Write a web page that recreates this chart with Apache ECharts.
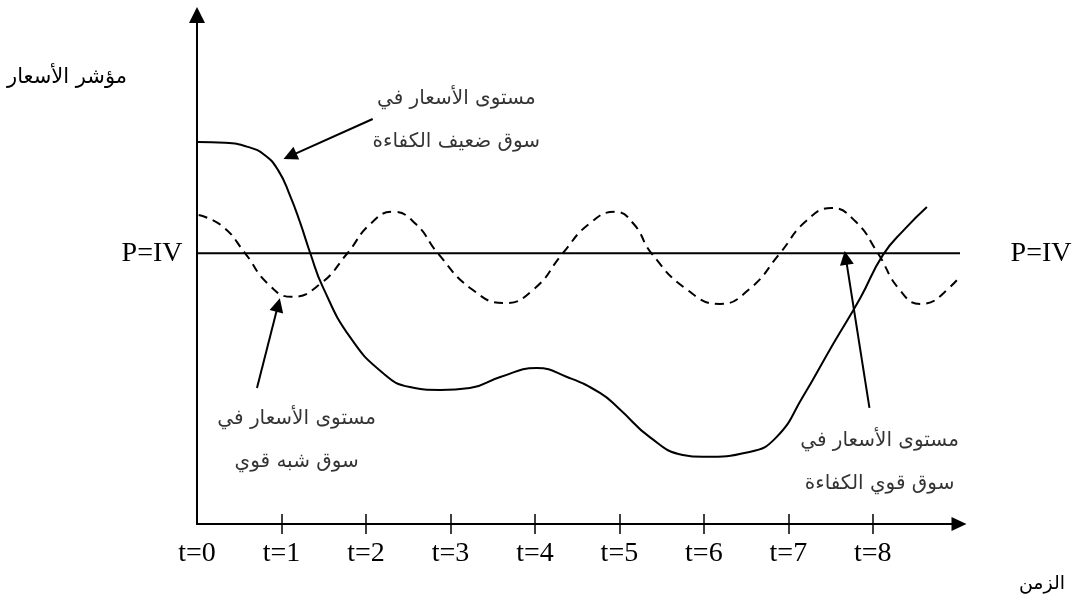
<!DOCTYPE html>
<html><head><meta charset="utf-8">
<script src="https://cdn.jsdelivr.net/npm/echarts@6/dist/echarts.min.js"></script>
<style>html,body{margin:0;padding:0;background:#fff}#c{width:1079px;height:595px}</style>
</head><body><div id="c"></div>
<script>
// ---- data (time t, price index; intrinsic value level = 100) ----
const timeTicks = [0, 1, 2, 3, 4, 5, 6, 7, 8];
const tickMarks = [1, 2, 3, 4, 5, 6, 7, 8];
const ivLevel = 100;
const ivSpan = [0, 9.53];
const ivLabel = 'P=IV';

// weak-efficiency market (solid)
const weakT = [0.01, 0.33, 0.60, 0.80, 0.96, 1.10, 1.22, 1.34, 1.49, 1.81, 2.20, 2.52, 2.88, 3.23, 3.59, 4.02, 4.38, 4.77, 5.00, 5.36, 5.75, 5.99, 6.54, 6.86, 7.17, 7.53, 7.85, 8.12, 8.38, 8.64];
const weakV = [141.1, 140.8, 139.3, 136.3, 130.7, 121.4, 111.4, 100.1, 87.5, 69.1, 55.8, 50.6, 49.5, 50.2, 54.3, 57.6, 54.3, 48.4, 42.5, 32.1, 25.5, 24.8, 26.6, 32.1, 46.9, 66.5, 83.4, 99.4, 109.0, 117.1];

// semi-strong market (dashed)
const semiT = [0.02, 0.30, 0.57, 0.84, 1.12, 1.46, 1.78, 2.05, 2.32, 2.59, 2.85, 3.25, 3.64, 3.99, 4.33, 4.64, 4.95, 5.17, 5.38, 5.79, 6.19, 6.54, 6.90, 7.21, 7.51, 7.79, 8.06, 8.31, 8.56, 8.89, 9.21, 9.27];
const semiV = [114.1, 110.0, 100, 88.7, 83.9, 88.7, 100, 110.8, 115.3, 110.8, 100, 86.8, 81.6, 86.8, 100, 110.8, 115.3, 110.8, 100, 86.8, 81.3, 86.8, 100, 111.9, 116.7, 111.9, 100, 86.8, 81.3, 86.8, 100, 104.1];

// annotations: text and arrow (tail -> head) in axis units
const noteTexts = ['مستوى الأسعار في\nسوق ضعيف الكفاءة', 'مستوى الأسعار في\nسوق شبه قوي', 'مستوى الأسعار في\nسوق قوي الكفاءة'];
const noteAnchors = [[3.07, 149.2], [1.18, 31.0], [8.08, 22.9]];
const arrowTails = [[2.08, 149.6], [0.71, 50.2], [7.96, 42.9]];
const arrowHeads = [[1.10, 135.9], [0.96, 80.9], [7.68, 98.3]];

const yTitle = 'مؤشر الأسعار';
const xTitle = 'الزمن';

// ---- chart ----
const zip = (a, b) => a.map((x, i) => [x, b[i]]);
const arabicFont = 'DejaVu Sans';
const serifFont = 'Liberation Serif';

const chart = echarts.init(document.getElementById('c'), null, {renderer: 'canvas'});
chart.setOption({
  animation: false,
  backgroundColor: '#fff',
  grid: {left: 197, right: 120, top: 15, bottom: 71, containLabel: false, outerBoundsMode: 'none'},
  xAxis: [{
    type: 'value', min: 0, max: 9.02, position: 'bottom',
    axisLine: {show: true, onZero: false, symbol: ['none', 'triangle'], symbolSize: [14, 15], lineStyle: {color: '#000', width: 2}},
    axisTick: {show: true, customValues: tickMarks, length: 10, lineStyle: {color: '#000', width: 1.5}},
    axisLabel: {show: true, customValues: timeTicks, formatter: v => 't=' + v, margin: 16,
      fontFamily: serifFont, fontSize: 28, color: '#000'},
    splitLine: {show: false}
  }, {
    type: 'value', min: 0, max: 9.02, position: 'bottom',
    axisLine: {show: false},
    axisTick: {show: true, inside: true, customValues: tickMarks, length: 10, lineStyle: {color: '#000', width: 1.5}},
    axisLabel: {show: false},
    splitLine: {show: false}
  }],
  yAxis: {
    type: 'value', min: 0, max: 188,
    axisLine: {show: true, onZero: false, symbol: ['none', 'triangle'], symbolSize: [16, 16], lineStyle: {color: '#000', width: 2}},
    axisTick: {show: false}, axisLabel: {show: false}, splitLine: {show: false}
  },
  graphic: [
    {type: 'text', x: 67, y: 78, style: {text: yTitle, fontFamily: arabicFont, fontSize: 21, fill: '#000', align: 'center', verticalAlign: 'middle'}},
    {type: 'text', x: 1042, y: 584, style: {text: xTitle, fontFamily: arabicFont, fontSize: 19, fill: '#000', align: 'center', verticalAlign: 'middle'}}
  ],
  series: [{
    name: 'weak', type: 'line', smooth: 0.5, symbol: 'none', clip: false,
    data: zip(weakT, weakV),
    lineStyle: {color: '#000', width: 2}
  }, {
    name: 'semi', type: 'line', smooth: 0.5, symbol: 'none', clip: false,
    data: zip(semiT, semiV),
    lineStyle: {color: '#000', width: 2, type: [9, 6]}
  }, {
    name: 'iv', type: 'line', symbol: 'circle', symbolSize: 1, showSymbol: true, clip: false,
    itemStyle: {color: 'rgba(0,0,0,0)'},
    lineStyle: {color: '#000', width: 2},
    data: [
      {value: [ivSpan[0], ivLevel], label: {show: true, position: 'left', distance: 14}},
      {value: [ivSpan[1], ivLevel], label: {show: true, position: 'right', distance: 8}}
    ],
    label: {formatter: ivLabel, fontFamily: serifFont, fontSize: 28, color: '#000'}
  }, {
    name: 'arrows', type: 'lines', coordinateSystem: 'cartesian2d', silent: true,
    symbol: ['none', 'triangle'], symbolSize: 14,
    lineStyle: {color: '#000', width: 2, opacity: 1, curveness: 0},
    data: arrowTails.map((s, i) => ({coords: [s, arrowHeads[i]]}))
  }, {
    name: 'notes', type: 'scatter', symbolSize: 1, silent: true, clip: false,
    itemStyle: {color: 'rgba(0,0,0,0)'},
    data: noteAnchors.map((p, i) => ({value: p, name: noteTexts[i]})),
    label: {show: true, position: 'inside', formatter: '{b}', fontFamily: arabicFont, fontSize: 20, lineHeight: 43, color: '#000', align: 'center'}
  }]
});
</script></body></html>
